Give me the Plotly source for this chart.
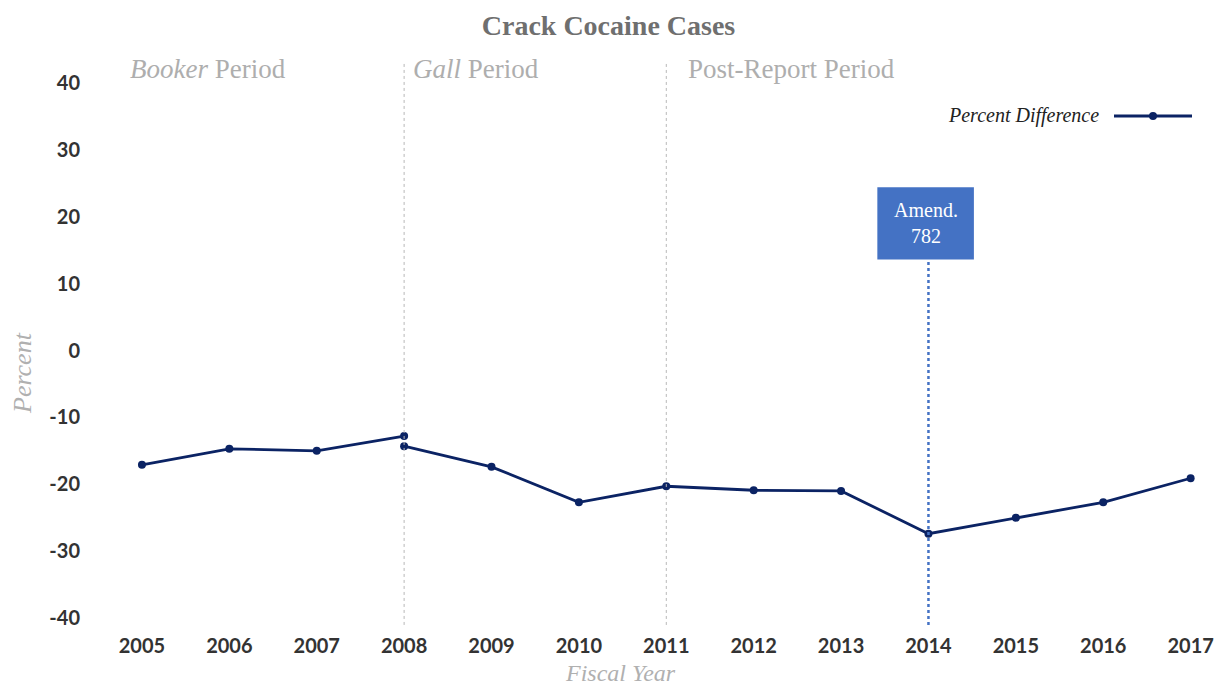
import plotly.graph_objects as go

years_booker = [2005, 2006, 2007, 2008]
vals_booker = [-17.1, -14.7, -15.0, -12.8]
years_after = [2008, 2009, 2010, 2011, 2012, 2013, 2014, 2015, 2016, 2017]
vals_after = [-14.3, -17.4, -22.7, -20.3, -20.9, -21.0, -27.4, -25.0, -22.7, -19.1]
x_ticks = list(range(2005, 2018))
y_ticks = [40, 30, 20, 10, 0, -10, -20, -30, -40]

navy = "#0B2364"
serif = "Liberation Serif"
sans = "Lato"

fig = go.Figure()
for xs, ys in [(years_booker, vals_booker), (years_after, vals_after)]:
    fig.add_trace(go.Scatter(
        x=xs, y=ys, mode="lines+markers", name="Percent Difference",
        line=dict(color=navy, width=2.8), marker=dict(color=navy, size=8),
        showlegend=False,
    ))

fig.update_layout(
    width=1217, height=688,
    margin=dict(l=100, r=22, t=83, b=70),
    paper_bgcolor="white", plot_bgcolor="white",
    title=dict(text="<b>Crack Cocaine Cases</b>", x=0.5, xanchor="center", y=0.963, yanchor="middle",
               font=dict(family=serif, size=28, color="#6F6F6F")),
    xaxis=dict(range=[2004.52, 2017.05], tickvals=x_ticks, ticktext=[str(v) for v in x_ticks],
               showgrid=False, zeroline=False, showline=False, ticks="", ticklabelstandoff=14,
               automargin=False,
               tickfont=dict(family=sans, size=20, color="#333333", weight="bold")),
    yaxis=dict(range=[-40, 40], tickvals=y_ticks, ticktext=[str(v) for v in y_ticks],
               showgrid=False, zeroline=False, showline=False, ticks="", ticklabelstandoff=19,
               automargin=False,
               tickfont=dict(family=sans, size=20, color="#333333", weight="bold")),
)

# axis titles
fig.add_annotation(x=(22 - 100) / 1095, y=(618 - 373) / 535, xref="paper", yref="paper",
                   text="<i>Percent</i>", textangle=-90, showarrow=False,
                   xanchor="center", yanchor="middle",
                   font=dict(family=serif, size=26, color="#B0B0B0"))
fig.add_annotation(x=(620 - 100) / 1095, y=(618 - 673) / 535, xref="paper", yref="paper",
                   text="<i>Fiscal Year</i>", showarrow=False,
                   xanchor="center", yanchor="middle",
                   font=dict(family=serif, size=24, color="#B0B0B0"))

# period separators
for xv in [2008, 2011]:
    fig.add_shape(type="line", x0=xv, x1=xv, xref="x", yref="paper", y0=-0.013, y1=1.04,
                  line=dict(color="#B8B8B8", width=1, dash="dot"))

# period labels
labels = [(2004.84, "<i>Booker</i> Period"), (2008.08, "<i>Gall</i> Period"), (2011.23, "Post-Report Period")]
for xv, t in labels:
    fig.add_annotation(x=xv, y=1.026, xref="x", yref="paper", text=t, showarrow=False,
                       xanchor="left", yanchor="middle",
                       font=dict(family=serif, size=27, color="#AEAEAE"))

# Amendment 782 marker
fig.add_shape(type="line", x0=2014, x1=2014, xref="x", yref="paper", y0=-0.013, y1=(618 - 260) / 535,
              line=dict(color="#4472C4", width=2.5, dash="dot"))
fig.add_shape(type="rect", x0=2013.415, x1=2014.52, y0=13.6, y1=24.4, xref="x", yref="y",
              fillcolor="#4472C4", line=dict(width=0))
fig.add_annotation(x=(2013.415 + 2014.52) / 2, y=19.0, xref="x", yref="y", text="Amend.<br>782",
                   showarrow=False, font=dict(family=serif, size=20, color="white"))

# custom legend (label left of symbol)
fig.add_annotation(x=(1101 - 100) / 1095, y=(618 - 115) / 535, xref="paper", yref="paper",
                   text="<i>Percent Difference</i>", showarrow=False, xanchor="right", yanchor="middle",
                   font=dict(family=serif, size=20, color="#222222"))
ly = (618 - 116) / 535
fig.add_shape(type="line", xref="paper", yref="paper", x0=(1114 - 100) / 1095, x1=(1192 - 100) / 1095,
              y0=ly, y1=ly, line=dict(color=navy, width=2.8))
fig.add_shape(type="circle", xref="paper", yref="paper", xsizemode="pixel", ysizemode="pixel",
              xanchor=(1153 - 100) / 1095, yanchor=ly, x0=-4, x1=4, y0=-4, y1=4,
              fillcolor=navy, line=dict(color=navy, width=0))

fig.write_html("out.html", config={"displayModeBar": False},
               post_script="document.body.style.margin='0';document.body.style.overflow='hidden';")
